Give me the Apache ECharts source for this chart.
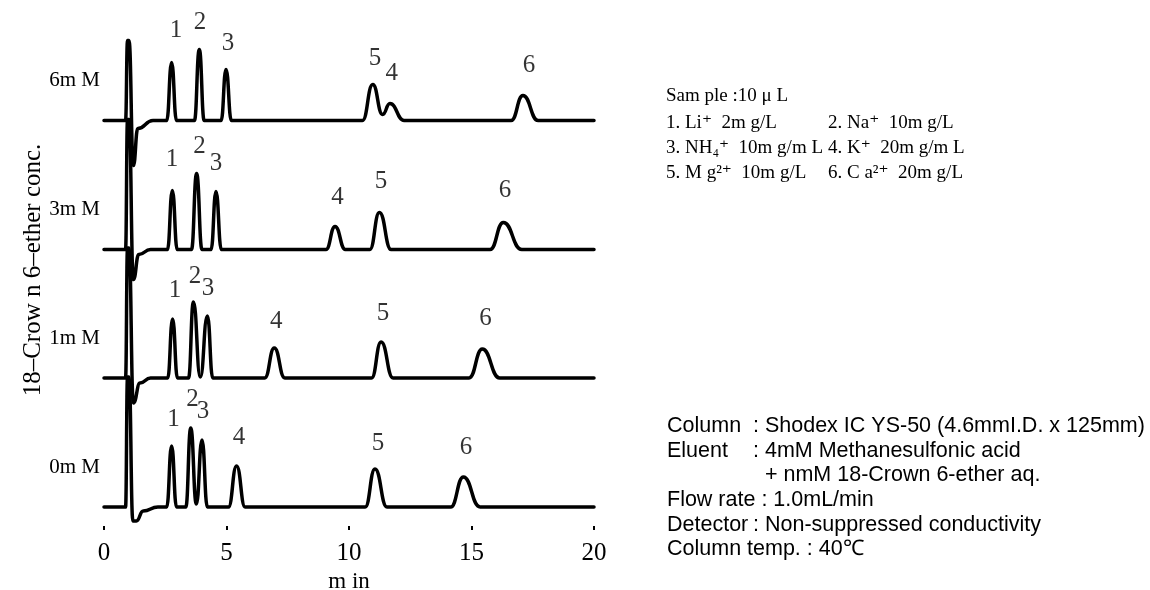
<!DOCTYPE html>
<html>
<head>
<meta charset="utf-8">
<script src="https://cdn.jsdelivr.net/npm/echarts@6/dist/echarts.min.js"></script>
<style>
  html, body { margin: 0; padding: 0; background: #fff; }
  #chart { width: 1150px; height: 590px; }
</style>
</head>
<body>
<div id="chart"></div>
<script>
// ---- data -------------------------------------------------------------
// retention time axis (min)
const timeTicks = [0, 5, 10, 15, 20];

// crown ether concentration of each run, top to bottom
const concLabels = ['6m M', '3m M', '1m M', '0m M'];

// detector signal: [time (min), response above the run's own baseline]
// (peak starts, apexes, valleys and ends)
const trace6mM = [
  [0, 0], [0.88, 0], [0.96, 80], [1.02, 80], [1.2, -45], [1.38, -8], [2.0, 0],
  [2.56, 0], [2.76, 58], [2.96, 0],
  [3.69, 0], [3.89, 71], [4.09, 0],
  [4.78, 0], [4.98, 51], [5.2, 0],
  [10.55, 0], [10.97, 36], [11.37, 6], [11.67, 17], [12.25, 0],
  [16.62, 0], [17.10, 25], [17.72, 0],
  [20, 0]
];
const trace3mM = [
  [0, 0], [0.88, 0], [0.96, 130], [1.02, 130], [1.2, -30], [1.42, -5], [1.9, 0],
  [2.59, 0], [2.79, 59], [2.99, 0],
  [3.57, 0], [3.78, 76], [4.0, 0],
  [4.37, 0], [4.57, 58], [4.79, 0],
  [9.06, 0], [9.43, 23], [9.85, 0],
  [10.85, 0], [11.24, 37], [11.72, 0],
  [15.76, 0], [16.30, 27], [17.05, 0],
  [20, 0]
];
const trace1mM = [
  [0, 0], [0.88, 0], [0.96, 130], [1.02, 130], [1.2, -25], [1.47, -5], [1.9, 0],
  [2.6, 0], [2.80, 59], [3.0, 0],
  [3.45, 0], [3.65, 76], [3.93, 1], [4.22, 62], [4.44, 0],
  [6.56, 0], [6.95, 30], [7.38, 0],
  [10.92, 0], [11.31, 36], [11.8, 0],
  [14.9, 0], [15.44, 29], [16.15, 0],
  [20, 0]
];
const trace0mM = [
  [0, 0], [0.88, 0], [0.96, 130], [1.02, 130], [1.18, -14], [1.32, -14], [1.6, -4], [2.2, 0],
  [2.56, 0], [2.76, 61], [2.96, 0],
  [3.34, 0], [3.54, 79], [3.77, 3], [4.00, 67], [4.22, 0],
  [5.08, 0], [5.41, 41], [5.76, 0],
  [10.66, 0], [11.06, 38], [11.55, 0],
  [14.15, 0], [14.67, 30], [15.35, 0],
  [20, 0]
];

// peak numbers: [number, time (min), level above the run's own baseline]
const tags6mM = [['1', 2.94, 90.5], ['2', 3.92, 98.5], ['3', 5.06, 77.5],
                 ['5', 11.06, 62.5], ['4', 11.74, 47.5], ['6', 17.35, 55.5]];
const tags3mM = [['1', 2.78, 90.5], ['2', 3.90, 103.5], ['3', 4.57, 86.5],
                 ['4', 9.53, 52], ['5', 11.31, 68], ['6', 16.37, 59.5]];
const tags1mM = [['1', 2.90, 88], ['2', 3.71, 102], ['3', 4.24, 89.3],
                 ['4', 7.03, 56.3], ['5', 11.39, 64.5], ['6', 15.57, 59.3]];
const tags0mM = [['1', 2.84, 88], ['2', 3.61, 108], ['3', 4.04, 96],
                 ['4', 5.51, 69.5], ['5', 11.18, 64], ['6', 14.78, 60]];

// sample / condition notes
const sampleLines = [
  ['Sam ple :10 \u03bc L', ''],
  ['1. Li\u207a  2m g/L', '2. Na\u207a  10m g/L'],
  ['3. NH\u2084\u207a  10m g/m L', '4. K\u207a  20m g/m L'],
  ['5. M g\u00b2\u207a  10m g/L', '6. C a\u00b2\u207a  20m g/L']
];
const conditionLines = [
  ['Column', ': Shodex IC YS-50 (4.6mmI.D. x 125mm)'],
  ['Eluent', ': 4mM Methanesulfonic acid'],
  ['', '  + nmM 18-Crown 6-ether aq.'],
  ['Flow rate : 1.0mL/min', ''],
  ['Detector', ': Non-suppressed conductivity'],
  ['Column temp. : 40\u2103', '']
];

// ---- layout -----------------------------------------------------------
const SERIF = "'Liberation Serif', 'DejaVu Serif', serif";
const SANS = "'Liberation Sans', Arial, sans-serif";
const baselines = [405.5, 276.5, 148, 19];   // vertical stacking of the runs
const traces = [trace6mM, trace3mM, trace1mM, trace0mM];
const tags = [tags6mM, tags3mM, tags1mM, tags0mM];

const chart = echarts.init(document.getElementById('chart'), null, { renderer: 'canvas' });

const series = [];
traces.forEach((tr, i) => {
  series.push({
    type: 'line',
    data: tr.map(p => [p[0], p[1] + baselines[i]]),
    smooth: 0.5,
    smoothMonotone: 'x',
    showSymbol: false,
    silent: true,
    clip: false,
    lineStyle: { color: '#000', width: 3.5, cap: 'round', join: 'round' }
  });
  series.push({
    type: 'scatter',
    symbolSize: 1,
    silent: true,
    clip: false,
    itemStyle: { color: 'rgba(0,0,0,0)' },
    data: tags[i].map(([txt, t, v]) => ({ name: txt, value: [t, v + baselines[i]] })),
    label: {
      show: true, position: 'inside', formatter: p => p.name,
      fontSize: 25, color: '#000', fontFamily: SERIF, textBorderWidth: 0
    }
  });
});

chart.setOption({
  animation: false,
  backgroundColor: '#fff',
  grid: { left: 104, right: 556, top: 26, bottom: 64, containLabel: false, outerBoundsMode: 'none' },
  xAxis: {
    type: 'value', min: timeTicks[0], max: timeTicks[timeTicks.length - 1], interval: 5,
    axisLine: { show: false },
    axisTick: { show: true, length: 4, lineStyle: { color: '#000', width: 2 } },
    splitLine: { show: false },
    axisLabel: { fontSize: 25, color: '#000', fontFamily: SERIF, margin: 15 },
    name: 'm in', nameLocation: 'middle', nameGap: 43,
    nameTextStyle: { fontSize: 23, color: '#000', fontFamily: SERIF }
  },
  yAxis: { type: 'value', min: 0, max: 500, show: false },
  series
});

// text placed around the plot
const graphics = [];
concLabels.forEach((lab, i) => {
  const y = chart.convertToPixel({ gridIndex: 0 }, [0, baselines[i] + 40])[1];
  graphics.push({ type: 'text', x: 100, y,
    style: { text: lab, fontSize: 21, fontFamily: SERIF, fill: '#000', align: 'right', verticalAlign: 'middle' } });
});
graphics.push({ type: 'text', x: 33, y: 270, rotation: Math.PI / 2,
  style: { text: '18\u2013Crow n 6\u2013ether conc.', fontSize: 25, fontFamily: SERIF, fill: '#000',
           align: 'center', verticalAlign: 'middle' } });

const sampleY = [96, 123, 148, 173];
sampleLines.forEach((ln, i) => {
  graphics.push({ type: 'text', x: 666, y: sampleY[i],
    style: { text: ln[0], fontSize: 19, fontFamily: SERIF, fill: '#000', verticalAlign: 'middle' } });
  if (ln[1]) graphics.push({ type: 'text', x: 828, y: sampleY[i],
    style: { text: ln[1], fontSize: 19, fontFamily: SERIF, fill: '#000', verticalAlign: 'middle' } });
});
conditionLines.forEach((ln, i) => {
  const y = 426 + i * 24.7;
  if (ln[0]) graphics.push({ type: 'text', x: 667, y,
    style: { text: ln[0], fontSize: 21.5, fontFamily: SANS, fill: '#000', verticalAlign: 'middle' } });
  if (ln[1]) graphics.push({ type: 'text', x: 753, y,
    style: { text: ln[1], fontSize: 21.5, fontFamily: SANS, fill: '#000', verticalAlign: 'middle' } });
});
chart.setOption({ graphic: graphics });
</script>
</body>
</html>
